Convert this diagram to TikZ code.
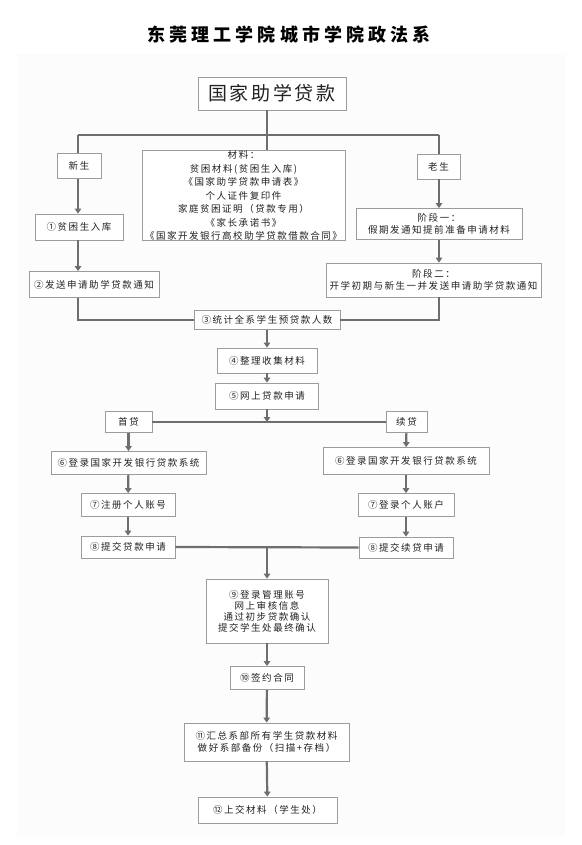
\documentclass[tikz,border=0pt]{standalone}
\usepackage{fontspec}
\usepackage{xcolor}
\usepackage{tikz}
\usetikzlibrary{arrows.meta}
\newfontfamily\cjk{Noto Sans CJK SC}[LetterSpace=16]
\newfontfamily\cjkbig{Noto Sans CJK SC}[LetterSpace=14]
\newfontfamily\cjktitle{Noto Sans CJK SC}[LetterSpace=23]
\definecolor{lnc}{HTML}{6E6E6E}
\definecolor{bdc}{HTML}{9C9C9C}
\definecolor{txc}{HTML}{222222}
\definecolor{bgc}{HTML}{FCFCFC}
\tikzset{
  box/.style={draw=bdc,line width=0.8pt,fill=white,inner sep=0pt,align=center,text=txc,font=\cjk\fontsize{9.5}{12}\selectfont},
  ln/.style={draw=lnc,line width=2.2pt},
  ar/.style={ln,-{Triangle[length=5pt,width=6.5pt]}}
}

\begin{document}
\begin{tikzpicture}[x=1pt,y=-1pt]
\useasboundingbox (0,0) rectangle (581,845);
\fill[bgc] (17,54) rectangle (565,837);
\node[text=black,font=\cjktitle\bfseries\fontsize{18}{20}\selectfont] (title) at (289,35) {东莞理工学院城市学院政法系};
\node[box,minimum width=148pt,minimum height=33pt,font=\cjkbig\fontsize{19}{22}\selectfont] (main) at (272,93.5) {国家助学贷款};
\coordinate (top) at (267,135);
\coordinate (bl) at (78,135);
\coordinate (br) at (439,135);
\node[box,minimum width=203pt,minimum height=87pt,font=\cjk\fontsize{9.5}{13.5}\selectfont] (mat) at (243.5,195.5) {材料：\\贫困材料(贫困生入库)\\《国家助学贷款申请表》\\个人证件复印件\\家庭贫困证明（贷款专用）\\《家长承诺书》\\《国家开发银行高校助学贷款借款合同》};
\node[box,minimum width=44pt,minimum height=25pt] (xs) at (79,166) {新生};
\node[box,minimum width=43pt,minimum height=25pt] (ls) at (438.5,166.5) {老生};
\node[box,minimum width=88pt,minimum height=26pt] (s1) at (79,227) {①贫困生入库};
\node[box,minimum width=166pt,minimum height=31pt] (j1) at (439,224) {阶段一：\\假期发通知提前准备申请材料};
\node[box,minimum width=130pt,minimum height=26pt] (s2) at (94,284.5) {②发送申请助学贷款通知};
\node[box,minimum width=215pt,minimum height=34pt] (j2) at (433.5,280) {阶段二：\\开学初期与新生一并发送申请助学贷款通知};
\node[box,minimum width=146pt,minimum height=19pt] (s3) at (267,320) {③统计全系学生预贷款人数};
\node[box,minimum width=100pt,minimum height=25pt] (s4) at (267,360.5) {④整理收集材料};
\node[box,minimum width=103pt,minimum height=26pt] (s5) at (267,396) {⑤网上贷款申请};
\node[box,minimum width=47pt,minimum height=21pt] (sd) at (128.5,422) {首贷};
\node[box,minimum width=41pt,minimum height=21pt] (xd) at (406.5,422) {续贷};
\node[box,minimum width=155pt,minimum height=23pt] (s6a) at (128.5,463) {⑥登录国家开发银行贷款系统};
\node[box,minimum width=166pt,minimum height=27pt] (s6b) at (406,461) {⑥登录国家开发银行贷款系统};
\node[box,minimum width=94pt,minimum height=23pt] (s7a) at (128,505) {⑦注册个人账号};
\node[box,minimum width=96pt,minimum height=23pt] (s7b) at (406,505) {⑦登录个人账户};
\node[box,minimum width=94pt,minimum height=22pt] (s8a) at (128,547) {⑧提交贷款申请};
\node[box,minimum width=94pt,minimum height=21pt] (s8b) at (406,547.5) {⑧提交续贷申请};
\node[box,minimum width=122pt,minimum height=64pt,font=\cjk\fontsize{9.5}{11}\selectfont] (s9) at (267,611) {⑨登录管理账号\\网上审核信息\\通过初步贷款确认\\提交学生处最终确认};
\node[box,minimum width=74pt,minimum height=23pt] (s10) at (267,678) {⑩签约合同};
\node[box,minimum width=165pt,minimum height=38pt] (s11) at (266.5,742) {⑪汇总系部所有学生贷款材料\\做好系部备份（扫描+存档）};
\node[box,minimum width=139pt,minimum height=26pt] (s12) at (267.5,810) {⑫上交材料（学生处）};
\draw[ln] (main.south -| top) -- (top);
\draw[ln] (bl) -- (br);
\draw[ln] (bl) -- (xs.north -| bl);
\draw[ln] (br) -- (ls.north -| br);
\draw[ln] (top) -- (mat.north -| top);
\draw[ar] (xs.south -| bl) -- (s1.north -| bl);
\draw[ar] (s1.south -| bl) -- (s2.north -| bl);
\draw[ar] (ls.south -| br) -- (j1.north -| br);
\draw[ar] (j1.south -| br) -- (j2.north -| br);
\draw[ln] (s2.south -| bl) |- (s3.west);
\draw[ln] (j2.south -| br) |- (s3.east);
\draw[ar] (s3) -- (s4);
\draw[ar] (s4) -- (s5);
\draw[ln] (sd.east) -- (xd.west);
\draw[ar] (s5) -- (s5.south |- sd.east);
\draw[ar] (sd) -- (s6a);
\draw[ar] (xd) -- (s6b);
\draw[ar] (s6a) -- (s7a);
\draw[ar] (s6b) -- (s7b);
\draw[ar] (s7a) -- (s8a);
\draw[ar] (s7b) -- (s8b);
\draw[ln] (s8a.east) -- (s8b.west);
\draw[ar] (s8a.east -| s9.north) -- (s9.north);
\draw[ar] (s9) -- (s10);
\draw[ar] (s10) -- (s11);
\draw[ar] (s11) -- (s12);
\end{tikzpicture}
\end{document}
